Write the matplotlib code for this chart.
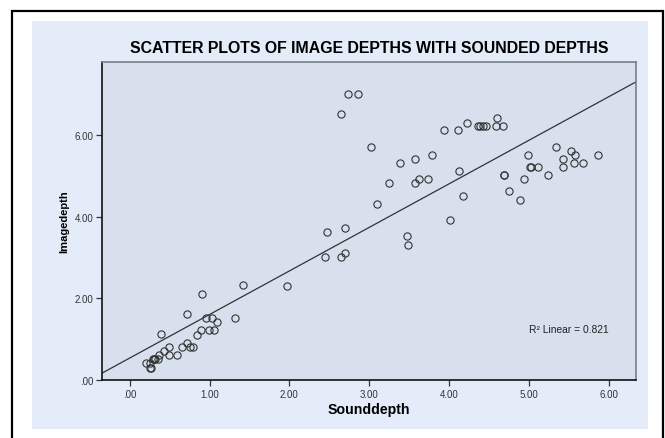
"""Scatter of image depth against sounded depth with a linear fit line."""
import matplotlib
matplotlib.use('Agg')
import matplotlib.pyplot as plt
from matplotlib.patches import Rectangle
import numpy as np

plt.rcParams['font.family'] = ['Liberation Sans', 'DejaVu Sans']

# sounded depth (x) and image depth (y)
sound_depth = [
    0.21, 0.25, 0.25, 0.27, 0.29, 0.30, 0.32, 0.35, 0.37, 0.39,
    0.43, 0.49, 0.49, 0.59, 0.66, 0.72, 0.72, 0.75, 0.79, 0.84,
    0.89, 0.90, 0.95, 0.99, 1.03, 1.05, 1.09, 1.32, 1.42, 1.97,
    2.45, 2.47, 2.64, 2.65, 2.69, 2.70, 2.73, 2.86, 3.02, 3.10,
    3.25, 3.38, 3.47, 3.48, 3.57, 3.57, 3.62, 3.74, 3.78, 3.93,
    4.01, 4.11, 4.12, 4.17, 4.22, 4.36, 4.39, 4.42, 4.46, 4.59,
    4.60, 4.67, 4.68, 4.69, 4.75, 4.88, 4.93, 4.99, 5.01, 5.02,
    5.11, 5.24, 5.34, 5.42, 5.43, 5.53, 5.56, 5.58, 5.67, 5.86,
]
image_depth = [
    0.41, 0.41, 0.30, 0.30, 0.51, 0.51, 0.51, 0.51, 0.61, 1.12,
    0.72, 0.82, 0.61, 0.61, 0.82, 1.62, 0.91, 0.82, 0.82, 1.11,
    1.22, 2.11, 1.51, 1.22, 1.51, 1.22, 1.41, 1.51, 2.32, 2.31,
    3.01, 3.62, 3.01, 6.52, 3.11, 3.72, 7.02, 7.02, 5.72, 4.32,
    4.82, 5.32, 3.52, 3.32, 5.42, 4.82, 4.92, 4.92, 5.52, 6.12,
    3.91, 6.12, 5.11, 4.52, 6.31, 6.22, 6.22, 6.22, 6.22, 6.22,
    6.41, 6.22, 5.02, 5.02, 4.62, 4.42, 4.92, 5.51, 5.22, 5.22,
    5.22, 5.02, 5.72, 5.22, 5.42, 5.62, 5.32, 5.51, 5.32, 5.51,
]

# fit line as drawn in the chart
fit_intercept = 0.537
fit_slope = 1.068
r2_text = 'R\u00b2 Linear = 0.821'

x_ticks = [0, 1, 2, 3, 4, 5, 6]
x_labels = ['.00', '1.00', '2.00', '3.00', '4.00', '5.00', '6.00']
y_ticks = [0, 2, 4, 6]
y_labels = ['.00', '2.00', '4.00', '6.00']

W, H = 665, 439
fig = plt.figure(figsize=(W / 100, H / 100), dpi=100)
fig.patch.set_facecolor('white')

# black frame and light blue chart panel
fig.patches.append(Rectangle((12 / W, -0.01), (663 - 12) / W, (H - 12) / H + 0.01,
                             transform=fig.transFigure, facecolor='white',
                             edgecolor='black', linewidth=1.6, zorder=-2))
fig.patches.append(Rectangle((32 / W, 1 - 430 / H), (648 - 32) / W, (430 - 22) / H,
                             transform=fig.transFigure, facecolor='#e4ecf9',
                             edgecolor='none', zorder=-1))

ax = fig.add_axes([102.3 / W, 1 - 381 / H, (635.7 - 102.3) / W, (381 - 62.7) / H])
ax.set_zorder(2)
ax.set_facecolor('#d7e0ec')
ax.set_xlim(-0.342, 6.334)
ax.set_ylim(0, 7.8)

ax.plot(sound_depth, image_depth, 'o', markersize=5.2, markerfacecolor='none',
        markeredgecolor='#333333', markeredgewidth=0.8, clip_on=False)

xl = np.array(ax.get_xlim())
ax.plot(xl, fit_intercept + fit_slope * xl, color='#333333', linewidth=0.9)

ax.text(0.874, 0.16, r2_text, transform=ax.transAxes, fontsize=7.4,
        ha='center', va='center', color='#222222')

ax.set_xticks(x_ticks)
ax.set_xticklabels(x_labels)
ax.set_yticks(y_ticks)
ax.set_yticklabels(y_labels)
ax.tick_params(direction='out', length=4.5, width=0.9, labelsize=7,
               colors='#333333', labelcolor='#333333', pad=2)

for side in ['left', 'bottom']:
    ax.spines[side].set_color('#111111')
    ax.spines[side].set_linewidth(1.2)
for side in ['top', 'right']:
    ax.spines[side].set_color('#7a7f88')
    ax.spines[side].set_linewidth(1.2)

ax.set_xlabel('Sounddepth', fontsize=10.2, fontweight='bold', labelpad=2)
ax.set_ylabel('Imagedepth', fontsize=8, fontweight='bold', labelpad=4)
ax.set_title('SCATTER PLOTS OF IMAGE DEPTHS WITH SOUNDED DEPTHS',
             fontsize=11.4, fontweight='bold', pad=7)

fig.savefig('out.png', dpi=100)
